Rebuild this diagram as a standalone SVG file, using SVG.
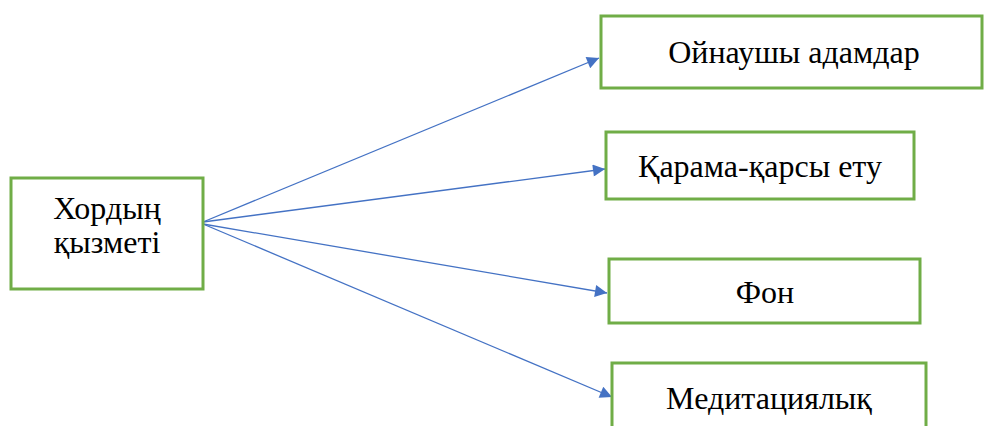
<svg xmlns="http://www.w3.org/2000/svg" width="984" height="426" viewBox="0 0 984 426">
<defs>
<style>
.box{fill:#fff;stroke:#70AD47;stroke-width:3}
.t{font-size:32px;fill:#000;text-anchor:middle}
.c{stroke:#4472C4;stroke-width:1.3;fill:none;marker-end:url(#ah)}
</style>
<marker id="ah" viewBox="0 0 10 10" refX="10" refY="5" markerWidth="16" markerHeight="12" markerUnits="userSpaceOnUse" orient="auto">
<path d="M0,0 L10,5 L0,10 z" fill="#4472C4"/>
</marker>
</defs>
<rect width="984" height="426" fill="#fff"/>
<g id="connectors">
<line class="c" x1="203" y1="222" x2="599" y2="58"/>
<line class="c" x1="203" y1="222" x2="605" y2="169"/>
<line class="c" x1="203" y1="224" x2="607" y2="293"/>
<line class="c" x1="203" y1="224" x2="612" y2="397"/>
</g>
<g id="nodes" font-family="Liberation Serif, serif">
<g id="n0">
<rect class="box" x="11" y="178" width="192" height="111"/>
<text class="t" x="107" y="219">Хордың</text>
<text class="t" x="107" y="253">қызметі</text>
</g>
<g id="n1">
<rect class="box" x="601" y="16" width="381" height="72"/>
<text class="t" x="794" y="63">Ойнаушы адамдар</text>
</g>
<g id="n2">
<rect class="box" x="606" y="132" width="308" height="67"/>
<text class="t" x="760" y="177">Қарама-қарсы ету</text>
</g>
<g id="n3">
<rect class="box" x="609" y="259" width="311" height="64"/>
<text class="t" x="765" y="303">Фон</text>
</g>
<g id="n4">
<rect class="box" x="612" y="363" width="314" height="80"/>
<text class="t" x="769" y="409">Медитациялық</text>
</g>
</g>
</svg>
